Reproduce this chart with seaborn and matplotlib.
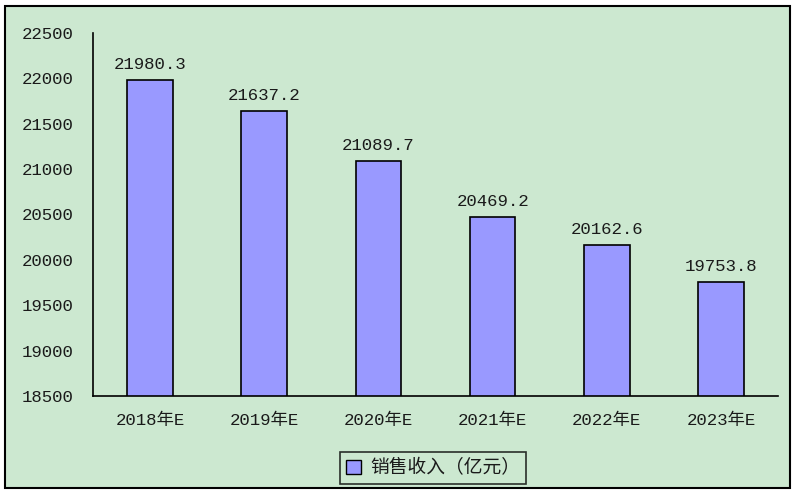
import matplotlib
matplotlib.use("Agg")
import matplotlib.pyplot as plt
import seaborn as sns
import pandas as pd
from matplotlib.patches import Rectangle, Patch

categories = ["2018年E", "2019年E", "2020年E", "2021年E", "2022年E", "2023年E"]
values = [21980.3, 21637.2, 21089.7, 20469.2, 20162.6, 19753.8]
y_ticks = [18500, 19000, 19500, 20000, 20500, 21000, 21500, 22000, 22500]
series_name = "销售收入（亿元）"

sns.set_theme(style="white")
mono = ['Liberation Mono', 'Noto Sans CJK SC', 'DejaVu Sans']
plt.rcParams['font.family'] = ['Noto Sans CJK SC', 'DejaVu Sans']

bg = "#CCE8D0"
bar_color = "#9999FF"
txt = "#1a1a1a"

fig = plt.figure(figsize=(8, 5), dpi=100)
fig.patch.set_facecolor("white")
fig.patches.append(Rectangle((5/800, 1-488/500), 785/800, 482/500, transform=fig.transFigure,
                             facecolor=bg, edgecolor="black", linewidth=1.5, zorder=-10))

ax = fig.add_axes([93/800, 1-396/500, 685/800, 363/500])
ax.set_zorder(5)
ax.set_facecolor("none")

df = pd.DataFrame({"cat": categories, "val": values})
sns.barplot(data=df, x="cat", y="val", ax=ax, color=bar_color, width=0.4,
            edgecolor="black", linewidth=1.2, saturation=1)

ax.set_ylim(18500, 22500)
ax.set_xlim(-0.5, len(categories) - 0.5)
ax.set_yticks(y_ticks)
ax.set_yticklabels([str(t) for t in y_ticks], fontsize=12.5, color=txt, family=mono)
ax.set_xticks(range(len(categories)))
ax.set_xticklabels(categories, fontsize=12.5, color=txt, family=mono)
ax.set_xlabel("")
ax.set_ylabel("")
ax.tick_params(axis="x", length=0, pad=12)
ax.set_xticks([i + 0.5 for i in range(len(categories))], minor=True)
ax.tick_params(axis="x", which="minor", direction="in", length=6, width=1.2, color="black")
ax.tick_params(axis="y", direction="out", length=6, width=1.2, color="black", pad=8)

for s in ["top", "right"]:
    ax.spines[s].set_visible(False)
for s in ["left", "bottom"]:
    ax.spines[s].set_color("black")
    ax.spines[s].set_linewidth(1.2)

for i, v in enumerate(values):
    ax.text(i, v + 90, f"{v:.1f}", ha="center", va="bottom", fontsize=12.5, color=txt, family=mono)

handle = Patch(facecolor=bar_color, edgecolor="black", linewidth=1)
leg = fig.legend([handle], [series_name], loc="center", bbox_to_anchor=(433/800, 1-468/500),
                 frameon=True, fancybox=False, fontsize=13.5, handlelength=0.8, handleheight=0.8,
                 handletextpad=0.5, borderpad=0.3, borderaxespad=0)
for t in leg.get_texts():
    t.set_color(txt)
leg.get_frame().set_edgecolor("black")
leg.get_frame().set_facecolor(bg)
leg.get_frame().set_linewidth(1.2)
leg.set_zorder(6)

fig.savefig("out.png", dpi=100, facecolor=fig.get_facecolor())
